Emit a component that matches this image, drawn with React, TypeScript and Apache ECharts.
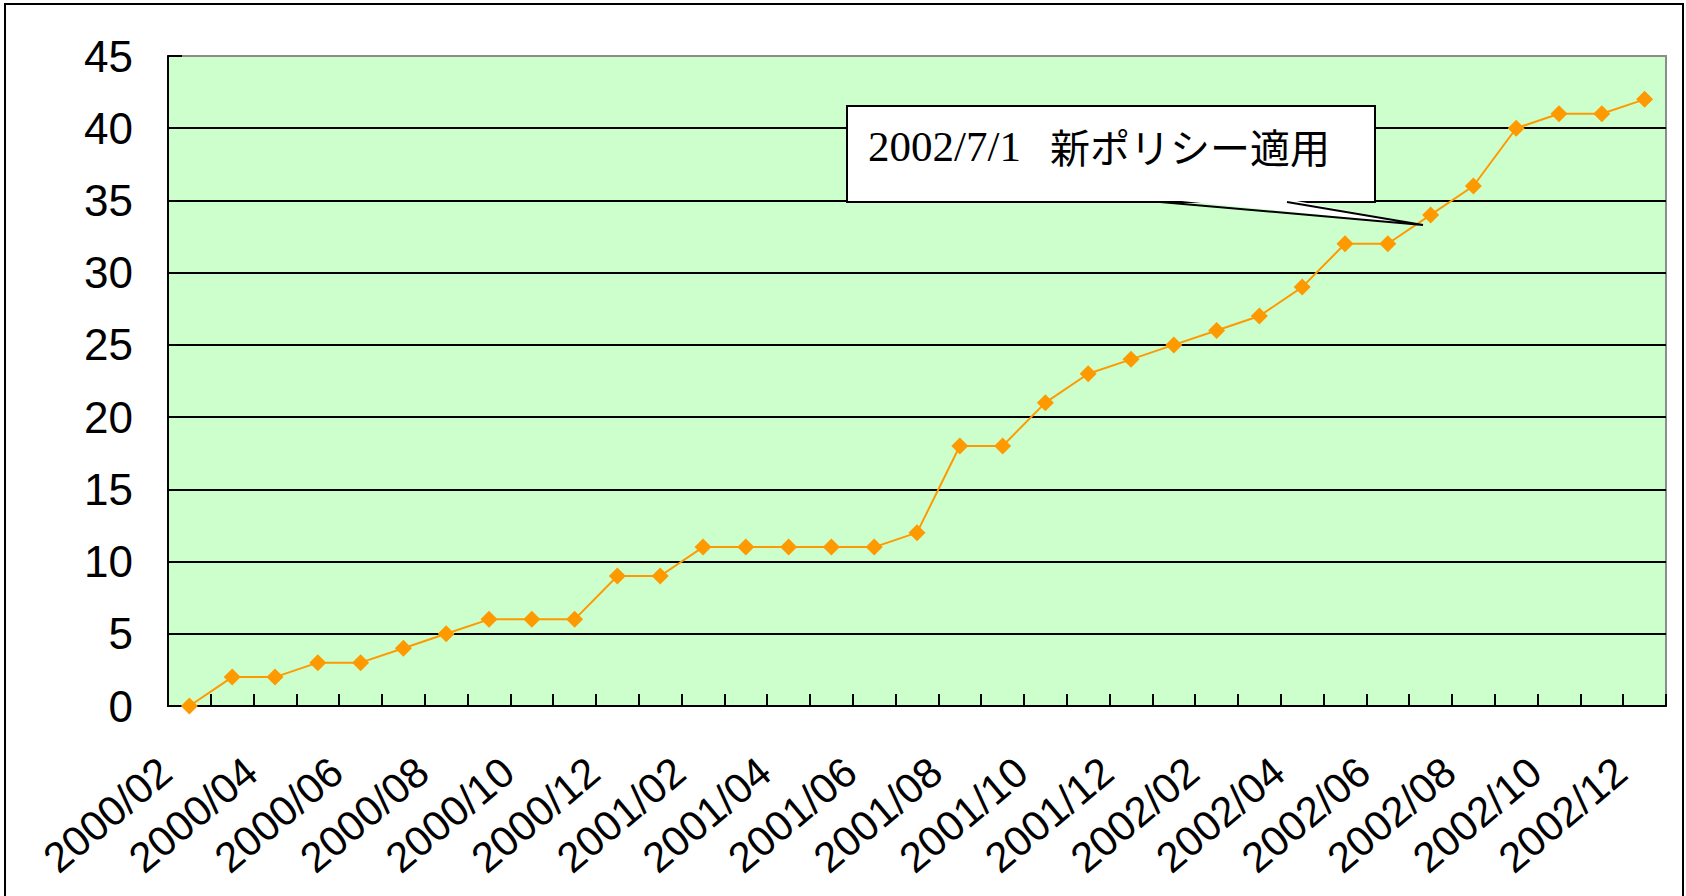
import React, { useEffect, useRef } from "react";
import * as echarts from "echarts";

const categories = [
  "2000/02", "2000/03", "2000/04", "2000/05", "2000/06", "2000/07", "2000/08", "2000/09", "2000/10", "2000/11", "2000/12",
  "2001/01", "2001/02", "2001/03", "2001/04", "2001/05", "2001/06", "2001/07", "2001/08", "2001/09", "2001/10", "2001/11", "2001/12",
  "2002/01", "2002/02", "2002/03", "2002/04", "2002/05", "2002/06", "2002/07", "2002/08", "2002/09", "2002/10", "2002/11", "2002/12",
];
const values = [
  0, 2, 2, 3, 3, 4, 5, 6, 6, 6, 9,
  9, 11, 11, 11, 11, 11, 12, 18, 18, 21, 23, 24,
  25, 26, 27, 29, 32, 32, 34, 36, 40, 41, 41, 42,
];
const calloutDate = "2002/7/1";
const calloutText = "新ポリシー適用";

export default function App() {
  const ref = useRef<HTMLDivElement>(null);
  useEffect(() => {
    if (!ref.current) return;
    const chart = echarts.init(ref.current, null, { renderer: "svg" });
    chart.setOption({
      animation: false,
      backgroundColor: "#ffffff",
      grid: {
        left: 168,
        right: 20,
        top: 56,
        bottom: 190,
        show: true,
        backgroundColor: "#CCFFCC",
        borderColor: "#8c8c8c",
        borderWidth: 2,
      },
      xAxis: {
        type: "category",
        data: categories,
        boundaryGap: true,
        axisLine: { show: true, lineStyle: { color: "#000", width: 2 } },
        axisTick: { show: true, inside: true, length: 12, interval: 0, lineStyle: { color: "#000", width: 2 } },
        axisLabel: {
          interval: 1,
          rotate: 40,
          margin: 40,
          padding: [0, 31, 0, 0],
          color: "#000",
          fontFamily: "Liberation Sans, Arial, sans-serif",
          fontSize: 42,
        },
        splitLine: { show: false },
      },
      yAxis: {
        type: "value",
        min: 0,
        max: 45,
        interval: 5,
        axisLine: { show: true, lineStyle: { color: "#000", width: 2 } },
        axisTick: { show: true, inside: true, length: 14, lineStyle: { color: "#000", width: 2 } },
        axisLabel: {
          margin: 35,
          padding: [8, 0, 0, 0],
          color: "#000",
          fontFamily: "Liberation Sans, Arial, sans-serif",
          fontSize: 44,
        },
        splitLine: { show: true, showMaxLine: false, lineStyle: { color: "#000", width: 2 } },
      },
      series: [
        {
          type: "line",
          data: values,
          symbol: "diamond",
          symbolSize: 17,
          itemStyle: { color: "#FF9900" },
          lineStyle: { color: "#FF9900", width: 2 },
          z: 5,
        },
      ],
      graphic: [
        {
          type: "rect",
          shape: { x: 5, y: 4, width: 1678, height: 900 },
          style: { fill: "none", stroke: "#000", lineWidth: 2 },
          silent: true,
          z: 100,
        },
        {
          type: "rect",
          shape: { x: 847, y: 106, width: 528, height: 96 },
          style: { fill: "#fff", stroke: "#000", lineWidth: 2 },
          z: 100,
        },
        {
          type: "polygon",
          shape: { points: [[1161, 199], [1286, 199], [1423, 225]] },
          style: { fill: "#fff", stroke: "none" },
          z: 101,
        },
        {
          type: "polyline",
          shape: { points: [[1160, 202], [1423, 225], [1287, 202]] },
          style: { fill: "none", stroke: "#000", lineWidth: 2 },
          z: 102,
        },
        {
          type: "text",
          x: 868,
          y: 146,
          style: {
            text: calloutDate,
            fontFamily: "Liberation Serif, Times New Roman, serif",
            fontSize: 43,
            fill: "#000",
            verticalAlign: "middle",
          },
          z: 103,
        },
        {
          type: "text",
          x: 1050,
          y: 146,
          style: {
            text: calloutText,
            fontFamily: "Noto Sans CJK JP, sans-serif",
            fontSize: 40,
            fill: "#000",
            verticalAlign: "middle",
          },
          z: 103,
        },
      ],
    });
    return () => chart.dispose();
  }, []);
  return (
    <div
      ref={ref}
      style={{ position: "absolute", left: 0, top: 0, width: 1686, height: 896 }}
    />
  );
}
